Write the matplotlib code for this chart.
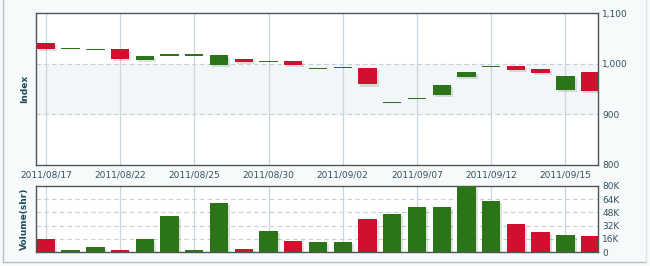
import numpy as np
import matplotlib
matplotlib.use("Agg")
import matplotlib.pyplot as plt
import matplotlib.patheffects as pe
from matplotlib.ticker import FuncFormatter

dates = ["2011/08/17", "2011/08/18", "2011/08/19", "2011/08/22", "2011/08/23",
         "2011/08/24", "2011/08/25", "2011/08/26", "2011/08/29", "2011/08/30",
         "2011/08/31", "2011/09/01", "2011/09/02", "2011/09/05", "2011/09/06",
         "2011/09/07", "2011/09/08", "2011/09/09", "2011/09/12", "2011/09/13",
         "2011/09/14", "2011/09/15", "2011/09/16"]
opens = [1040, 1030, 1028, 1029, 1007, 1017, 1017, 998, 1009, 1005, 1005, 991,
         992, 991, 924, 932, 938, 974, 995, 995, 990, 948, 984]
closes = [1029, 1030, 1028, 1009, 1015, 1017, 1017, 1017, 1003, 1005, 998, 991,
          992, 959, 924, 932, 958, 984, 995, 988, 982, 976, 947]
volumes = [15.5, 2.8, 6.4, 2.8, 16, 43.6, 2.8, 59.2, 4, 25.6, 13.6, 12.4, 12.4,
           40, 46, 54.4, 54.4, 80, 61.6, 34, 24.8, 20.8, 19.6]  # thousands of shares

price_ticks = [800, 900, 1000, 1100]
volume_ticks = [0, 16, 32, 48, 64, 80]

RED = "#d0102c"
GREEN = "#2b7419"
TXT = "#33505e"
LBL = "#1d4b5b"
SPINE = "#4d5558"
VGRID = "#c9d6de"

x = np.arange(len(dates))
opens = np.array(opens, float)
closes = np.array(closes, float)
colors = [RED if c < o else GREEN for o, c in zip(opens, closes)]

fig = plt.figure(figsize=(6.5, 2.66), dpi=100, facecolor="#f7fafb")
ax = fig.add_axes([36 / 650, 1 - 165 / 266, 562 / 650, 152 / 266])
axv = fig.add_axes([36 / 650, 1 - 252.3 / 266, 562 / 650, 66.6 / 266])

shadow = [pe.SimplePatchShadow(offset=(1.5, -1.5), alpha=0.13), pe.Normal()]

# --- price panel
ax.set_facecolor("white")
ax.axhspan(900, 1000, color="#f3f6f8", zorder=0)
lo = np.minimum(opens, closes)
hi = np.maximum(opens, closes)
flat = (hi - lo) < 1
heights = np.where(flat, 2.4, hi - lo)
bottoms = np.where(flat, lo - 1.2, lo)
bars = ax.bar(x, heights, bottom=bottoms, width=0.74, color=colors, zorder=3)
for b, f in zip(bars, flat):
    if not f:
        b.set_path_effects(shadow)

ax.set_xlim(-0.4, 22.32)
ax.set_ylim(800, 1100)
ax.yaxis.tick_right()
ax.set_yticks(price_ticks)
ax.yaxis.set_major_formatter(FuncFormatter(lambda v, p: f"{int(v):,}"))
ax.set_xticks(x[::3])
ax.set_xticklabels(dates[::3])
for yv in [900, 1000]:
    ax.axhline(yv, color="#c5cfd5", lw=0.8, ls=(0, (4, 3)), zorder=1)
for xv in x[::3]:
    ax.axvline(xv, color=VGRID, lw=0.9, zorder=1)
ax.set_ylabel("Index", fontsize=6.5, fontweight="bold", color=LBL)

# --- volume panel
axv.set_facecolor("white")
vbars = axv.bar(x, np.array(volumes) * 1000, width=0.74, color=colors, zorder=3)
for b in vbars:
    b.set_path_effects(shadow)
axv.set_xlim(-0.4, 22.32)
axv.set_ylim(0, 80000)
axv.yaxis.tick_right()
axv.set_yticks([v * 1000 for v in volume_ticks])
axv.set_yticklabels(["0"] + [f"{v}K" for v in volume_ticks[1:]])
axv.set_xticks(x[::3])
axv.set_xticklabels([])
for v in volume_ticks[1:-1]:
    axv.axhline(v * 1000, color="#c5cfd5", lw=0.8, ls=(0, (4, 3)), zorder=1)
for xv in x[::3]:
    axv.axvline(xv, color=VGRID, lw=0.9, zorder=1)
axv.set_ylabel("Volume(shr)", fontsize=6.5, fontweight="bold", color=LBL)

for a in (ax, axv):
    for s in a.spines.values():
        s.set_color(SPINE)
        s.set_linewidth(1.0)
    a.tick_params(length=0, labelsize=6.5, labelcolor=TXT, pad=3)
    a.yaxis.set_label_coords(-0.012, 0.5)

ax.tick_params(axis="x", pad=4)

# outer frame of the widget
fig.add_artist(plt.Line2D([3 / 650, 3 / 650], [1 - 262 / 266, 1], color="#b5bec3", lw=1))
fig.add_artist(plt.Line2D([3 / 650, 646 / 650], [1 - 262 / 266, 1 - 262 / 266], color="#b5bec3", lw=1))
fig.add_artist(plt.Line2D([646 / 650, 646 / 650], [1 - 262 / 266, 1], color="#dde3e6", lw=1))

fig.savefig("out.png", dpi=100, facecolor=fig.get_facecolor())
